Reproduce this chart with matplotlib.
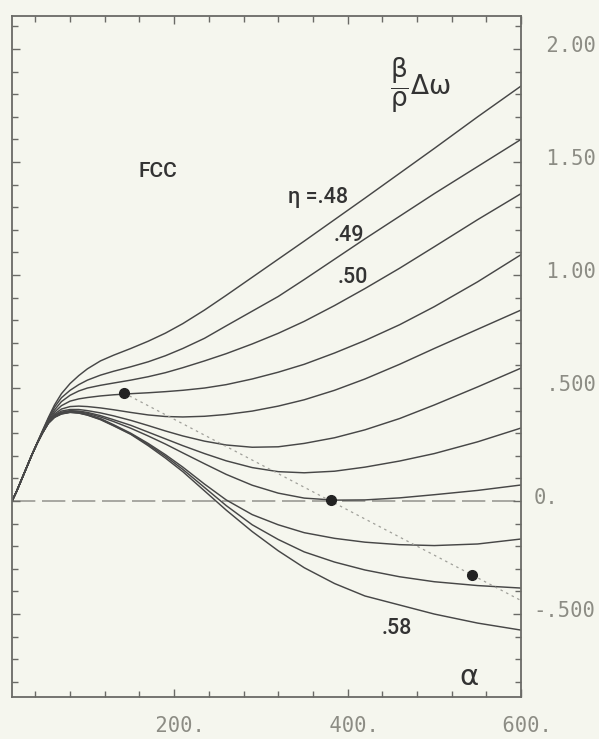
import matplotlib
matplotlib.use("Agg")
import matplotlib.pyplot as plt
import matplotlib.transforms as mtransforms
from matplotlib.ticker import FixedLocator, FixedFormatter, MultipleLocator, NullFormatter

alpha = [13, 18, 24, 30, 36, 42, 48, 55, 62, 70, 80, 90, 100, 115, 130, 150, 170, 190,
         210, 235, 260, 290, 320, 350, 385, 420, 460, 500, 550, 600]

# beta/rho * delta-omega for eta = .48 ... .58
eta_48 = [0, .04, .095, .15, .205, .258, .31, .37, .425, .475, .52, .555, .585, .62, .645,
          .675, .707, .743, .785, .845, .91, .99, 1.07, 1.15, 1.245, 1.34, 1.45, 1.56, 1.70, 1.836]
eta_49 = [0, .04, .095, .15, .205, .257, .308, .365, .415, .457, .49, .515, .535, .557, .574,
          .594, .616, .643, .675, .72, .775, .84, .905, .98, 1.07, 1.16, 1.26, 1.36, 1.48, 1.60]
eta_50 = [0, .04, .095, .15, .205, .256, .306, .36, .403, .44, .468, .487, .50, .512, .522,
          .535, .55, .568, .59, .62, .652, .695, .742, .795, .865, .94, 1.03, 1.125, 1.245, 1.36]
eta_51 = [0, .04, .095, .15, .205, .256, .304, .355, .393, .422, .442, .452, .458, .465, .47,
          .475, .479, .484, .49, .50, .515, .54, .57, .605, .655, .71, .78, .86, .97, 1.09]
eta_52 = [0, .04, .095, .15, .205, .255, .302, .35, .385, .407, .418, .42, .418, .412, .404,
          .392, .381, .374, .372, .375, .383, .398, .42, .448, .49, .54, .605, .675, .76, .845]
eta_53 = [0, .04, .095, .15, .205, .255, .301, .348, .38, .398, .405, .405, .40, .39, .377,
          .357, .334, .31, .288, .265, .248, .238, .24, .255, .28, .315, .365, .425, .505, .588]
eta_54 = [0, .04, .095, .15, .205, .255, .30, .347, .377, .393, .40, .398, .392, .378, .36,
          .335, .305, .275, .245, .21, .178, .148, .13, .125, .132, .15, .177, .21, .262, .323]
eta_55 = [0, .04, .095, .15, .205, .255, .30, .346, .374, .39, .397, .395, .388, .372, .352,
          .322, .288, .252, .213, .165, .118, .07, .035, .013, .004, .005, .014, .028, .047, .071]
eta_56 = [0, .04, .095, .15, .205, .255, .30, .345, .372, .387, .394, .391, .383, .365, .338,
          .30, .255, .205, .15, .075, .005, -.06, -.105, -.14, -.165, -.182, -.193, -.197, -.19, -.168]
eta_57 = [0, .04, .095, .15, .205, .255, .30, .345, .371, .386, .393, .39, .381, .362, .335,
          .297, .25, .198, .14, .06, -.02, -.105, -.17, -.225, -.27, -.305, -.335, -.357, -.374, -.385]
eta_58 = [0, .04, .095, .15, .205, .255, .30, .344, .37, .385, .392, .389, .38, .36, .333,
          .295, .245, .19, .13, .045, -.04, -.135, -.22, -.295, -.365, -.42, -.46, -.50, -.54, -.571]
curves = [eta_48, eta_49, eta_50, eta_51, eta_52, eta_53, eta_54, eta_55,
          eta_56, eta_57, eta_58]

# marked points and the dotted line through them
dot_alpha = [142, 381, 544]
dot_value = [0.478, 0.005, -0.327]
guide_alpha = [142, 600]
guide_value = [0.478, -0.44]

# tick labels as printed
y_ticks = [-0.5, 0.0, 0.5, 1.0, 1.5, 2.0]
y_labels = ["-.500", "0.", " .500", " 1.00", " 1.50", " 2.00"]
x_ticks = [200, 400, 600]
x_labels = [" 200.", " 400.", " 600."]

paper = "#f5f6ee"
ink = "#474747"
frame = "#6a6a66"
label_grey = "#8c8c84"

fig = plt.figure(figsize=(5.99, 7.39), dpi=100, facecolor=paper)
ax = fig.add_axes([12 / 599, 1 - 697 / 739, 509 / 599, 681 / 739], facecolor=paper)

# zero line, long dashes
ax.axhline(0, color="#9a9a94", lw=1.2, dashes=(14, 4), zorder=1)

for vals in curves:
    ax.plot(alpha, vals, color=ink, lw=1.05, zorder=2)

ax.plot(guide_alpha, guide_value, color="#a0a09a", lw=0.9, ls=(0, (2, 3)), zorder=2)
ax.plot(dot_alpha, dot_value, "o", color="#222222", ms=7, zorder=3)

ax.set_xlim(13, 600)
ax.set_ylim(-0.867, 2.146)

# ticks inward on every side, labels only right and bottom
ax.xaxis.set_major_locator(FixedLocator(x_ticks))
ax.xaxis.set_major_formatter(FixedFormatter(x_labels))
ax.xaxis.set_minor_locator(MultipleLocator(40))
ax.yaxis.set_major_locator(FixedLocator(y_ticks))
ax.yaxis.set_major_formatter(FixedFormatter(y_labels))
ax.yaxis.set_minor_locator(MultipleLocator(0.1))
ax.yaxis.set_minor_formatter(NullFormatter())
ax.tick_params(which="both", direction="in", top=True, right=True, left=True, bottom=True,
               color=frame, width=1.0, labelfontfamily="DejaVu Sans Mono")
ax.tick_params(which="major", length=6)
ax.tick_params(which="minor", length=4)
ax.tick_params(axis="y", labelleft=False, labelright=True, pad=9,
               labelsize=14.8, labelcolor=label_grey)
ax.tick_params(axis="x", pad=14, labelsize=14.8, labelcolor=label_grey)

# printed y labels sit a little above their ticks
lift = mtransforms.ScaledTranslation(0, 5 / 100, fig.dpi_scale_trans)
for lab in ax.get_yticklabels():
    lab.set_transform(lab.get_transform() + lift)

for sp in ax.spines.values():
    sp.set_color(frame)
    sp.set_linewidth(1.3)

# annotations
txt = dict(color="#333333", family="Roboto", weight="medium", ha="center", va="center")
ax.text(181, 1.456, "FCC", fontsize=15, **txt)
ax.text(366, 1.345, "η =.48", fontsize=15.5, **txt)
ax.text(401, 1.173, ".49", fontsize=15.5, **txt)
ax.text(406, 0.987, ".50", fontsize=15.5, **txt)
ax.text(457, -0.562, ".58", fontsize=15.5, **txt)
ax.text(540, -0.78, "α", fontsize=21, color="#333333", ha="center", va="center")
ax.text(484, 1.84, r"$\mathrm{\dfrac{\beta}{\rho}\Delta\omega}$", fontsize=19, color="#333333",
        ha="center", va="center")

fig.savefig("out.png", dpi=100, facecolor=paper)
